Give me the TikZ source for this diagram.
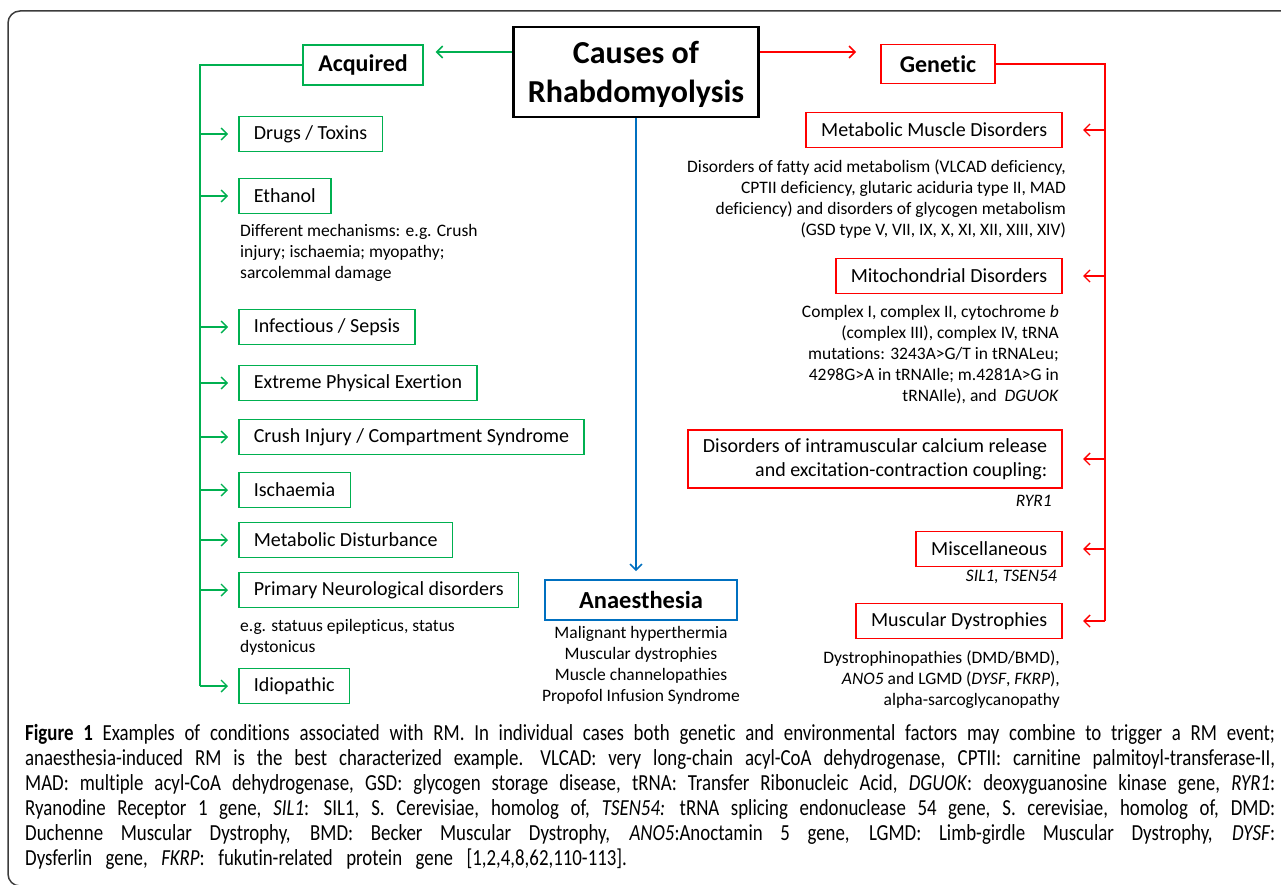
\documentclass[tikz,border=0pt]{standalone}
\usepackage{fontspec}
\setmainfont{Carlito}[Ligatures=NoCommon]
\newfontfamily\capfont[FakeStretch=0.82,Ligatures=NoCommon]{Carlito}
\usepackage{tikz}
\usetikzlibrary{arrows.meta}
\definecolor{accgreen}{RGB}{0,176,80}
\definecolor{genred}{RGB}{255,0,0}
\definecolor{anablue}{RGB}{0,112,192}
\definecolor{framegray}{RGB}{60,60,60}

\begin{document}
\begin{tikzpicture}[x=1pt, y=-1pt, >={Straight Barb[length=6pt,width=12pt]},
  gbox/.style={draw=accgreen, line width=1.6pt, inner xsep=15pt, minimum height=35pt, font=\fontsize{20}{24}\selectfont},
  rbox/.style={draw=genred, line width=1.6pt, inner xsep=15pt, minimum height=35pt, font=\fontsize{20}{24}\selectfont},
  note/.style={inner sep=0pt, font=\fontsize{17.5}{21}\selectfont},
  gline/.style={accgreen, line width=2pt},
  rline/.style={genred, line width=2pt},
  garrow/.style={accgreen, line width=1.4pt, ->, shorten >=10pt},
  rarrow/.style={genred, line width=1.4pt, ->, shorten >=20pt}]
\useasboundingbox (0,0) rectangle (1281,885);

% Frame
\draw[framegray, line width=1.5pt, rounded corners=12pt] (1300,11) -- (8,11) -- (8,886) -- (1300,886);

% Causes
\node[draw, line width=2.5pt, minimum width=245pt, minimum height=90pt, align=center, text depth=0pt,
  font=\bfseries\fontsize{32}{39}\selectfont] (main) at (636,72) {Causes of\\Rhabdomyolysis};

% Acquired
\node[gbox, minimum width=112pt, minimum height=40pt, font=\bfseries\fontsize{24}{28}\selectfont] (acq) at (363,65) {Acquired};
\node[gbox, anchor=west] (drugs) at (238,134) {Drugs / Toxins};
\node[gbox, anchor=west] (ethanol) at (238,196) {Ethanol};
\node[note, anchor=north west, align=left] (ethnote) at (240,224) {Different mechanisms: e.g. Crush\\injury; ischaemia; myopathy;\\sarcolemmal damage};
\node[gbox, anchor=west] (infect) at (238,327) {Infectious / Sepsis};
\node[gbox, anchor=west] (exert) at (238,383) {Extreme Physical Exertion};
\node[gbox, anchor=west] (crush) at (238,437) {Crush Injury / Compartment Syndrome};
\node[gbox, anchor=west] (isch) at (238,490) {Ischaemia};
\node[gbox, anchor=west] (metdist) at (238,540) {Metabolic Disturbance};
\node[gbox, anchor=west] (neuro) at (238,590) {Primary Neurological disorders};
\node[note, anchor=north west, align=left] (neuronote) at (240,619) {e.g. statuus epilepticus, status\\dystonicus};
\node[gbox, anchor=west] (idio) at (238,686) {Idiopathic};

\coordinate (trunkL) at (200,65);
\draw[gline] (acq) -| (trunkL |- idio);
\foreach \n in {drugs,ethanol,infect,exert,crush,isch,metdist,neuro,idio}
  \draw[garrow] (trunkL |- \n) -- (\n);
\draw[accgreen, line width=1.6pt, ->, shorten >=12pt] ([yshift=20pt]main.west) -- ([yshift=20pt]main.west -| acq.east);

% Anaesthesia
\node[draw=anablue, line width=1.6pt, minimum width=192pt, minimum height=40pt,
  font=\bfseries\fontsize{24.5}{28}\selectfont] (anaes) at (641,600) {Anaesthesia};
\node[note, anchor=north, align=center] (anaesnote) at (641,626) {Malignant hyperthermia\\Muscular dystrophies\\Muscle channelopathies\\Propofol Infusion Syndrome};
\draw[anablue, line width=1.6pt, ->, shorten >=8pt] (main) -- (main |- anaes.north);

% Genetic
\node[rbox, minimum width=114pt, minimum height=39pt, font=\bfseries\fontsize{24}{28}\selectfont] (gen) at (938,64) {Genetic};
\node[rbox, anchor=east] (metab) at (1063,130) {Metabolic Muscle Disorders};
\node[note, anchor=north east, align=right] (metabnote) at (1066,160) {Disorders of fatty acid metabolism (VLCAD deficiency,\\CPTII deficiency, glutaric aciduria type II, MAD\\deficiency) and disorders of glycogen metabolism\\(GSD type V, VII, IX, X, XI, XII, XIII, XIV)};
\node[rbox, anchor=east] (mito) at (1063,276) {Mitochondrial Disorders};
\node[note, anchor=north east, align=right] (mitonote) at (1059,305) {Complex I, complex II, cytochrome \textit{b}\\(complex III), complex IV, tRNA\\mutations: 3243A>G/T in tRNALeu;\\4298G>A in tRNAIle; m.4281A>G in\\tRNAIle), and \ \textit{DGUOK}};
\node[rbox, anchor=east, align=right, minimum height=58pt] (calc) at (1063,459) {Disorders of intramuscular calcium release\\and excitation-contraction coupling:};
\node[note, anchor=north east] (calcnote) at (1052,495) {\textit{RYR1}};
\node[rbox, anchor=east] (misc) at (1063,549) {Miscellaneous};
\node[note, anchor=north east] (miscnote) at (1057,570) {\textit{SIL1, TSEN54}};
\node[rbox, anchor=east] (dystro) at (1063,621) {Muscular Dystrophies};
\node[note, anchor=north east, align=right] (dystronote) at (1060,650) {Dystrophinopathies (DMD/BMD),\\\textit{ANO5} and LGMD (\textit{DYSF}, \textit{FKRP}),\\alpha-sarcoglycanopathy};

\coordinate (trunkR) at (1105,64);
\draw[rline] (gen) -| (trunkR |- dystro);
\foreach \n in {metab,mito,calc,misc,dystro}
  \draw[rarrow] (trunkR |- \n) -- (\n);
\draw[genred, line width=1.6pt, ->, shorten >=24pt] ([yshift=20pt]main.east) -- ([yshift=20pt]main.east -| gen.west);

% Caption
\node[anchor=north west, inner sep=0pt, text width=1250pt, align=justify,
  font=\capfont\fontsize{23}{25}\selectfont] (caption) at (25,724) {\tolerance=9999\hyphenpenalty=10000\spaceskip=10pt plus 8pt minus 3pt
\textbf{Figure 1} Examples of conditions associated with RM. In individual cases both genetic and environmental factors may combine to trigger a RM event;\linebreak
anaesthesia-induced RM is the best characterized example. VLCAD: very long-chain acyl-CoA dehydrogenase, CPTII: carnitine palmitoyl-transferase-II,\linebreak
MAD: multiple acyl-CoA dehydrogenase, GSD: glycogen storage disease, tRNA: Transfer Ribonucleic Acid, \textit{DGUOK}: deoxyguanosine kinase gene, \textit{RYR1}:\linebreak
Ryanodine Receptor 1 gene, \textit{SIL1}: SIL1, S. Cerevisiae, homolog of, \textit{TSEN54:} tRNA splicing endonuclease 54 gene, S. cerevisiae, homolog of, DMD:\linebreak
Duchenne Muscular Dystrophy, BMD: Becker Muscular Dystrophy, \textit{ANO5}:Anoctamin 5 gene, LGMD: Limb-girdle Muscular Dystrophy, \textit{DYSF}:\linebreak
\spaceskip=13.5pt plus 2pt minus 2pt Dysferlin gene, \textit{FKRP}: fukutin-related protein gene [1,2,4,8,62,110-113].};
\end{tikzpicture}
\end{document}
